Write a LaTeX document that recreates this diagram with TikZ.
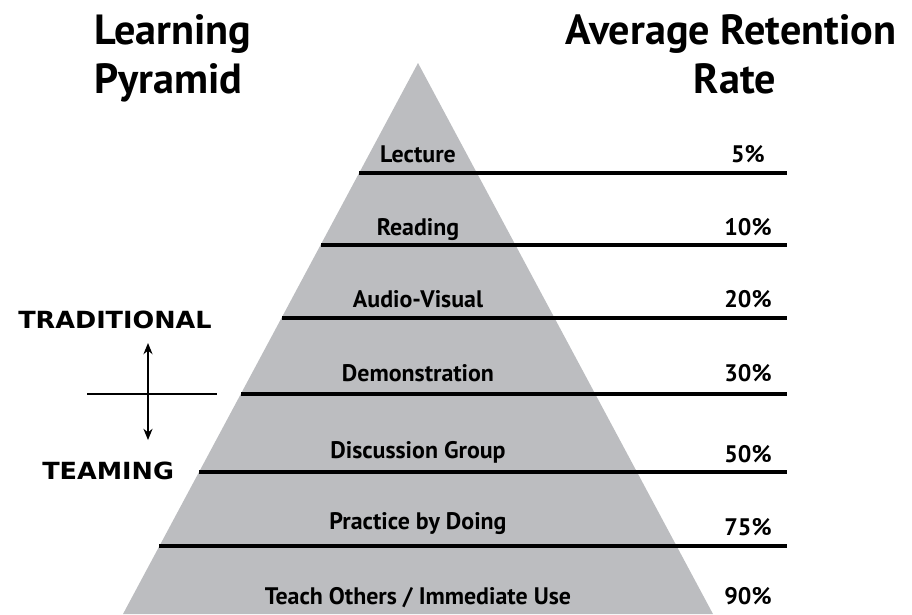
\documentclass[tikz,border=0pt]{standalone}
\usepackage{fontspec}
\usetikzlibrary{arrows.meta}
\setmainfont{PT Sans}
\newfontfamily\heavyfont[FakeStretch=1.08]{DejaVu Sans}
\definecolor{pyrgray}{RGB}{188,189,192}
\tikzset{
    lvl/.style={font=\bfseries\fontsize{17}{20}\selectfont, anchor=base, inner sep=0pt},
    pct/.style={font=\bfseries\fontsize{17}{20}\selectfont, anchor=base, inner sep=0pt},
    heading/.style={font=\bfseries\fontsize{30}{34}\selectfont, inner sep=0pt},
    side/.style={font=\heavyfont\bfseries\fontsize{16.8}{19}\selectfont, anchor=base west, inner sep=0pt},
    bar/.style={line width=2.2pt}
}
\begin{document}
\begin{tikzpicture}[x=0.025cm, y=-0.025cm]
        \useasboundingbox (0,0) rectangle (912,614);

        \coordinate (apex) at (418,63);
        \coordinate (baseL) at (123,614);
        \coordinate (baseR) at (713,614);
        \fill[pyrgray] (apex) -- (baseL) -- (baseR) -- cycle;

        % titles
        \node[heading, anchor=base west] (titleL1) at (94,44) {Learning};
        \node[heading, anchor=base west] (titleL2) at (94,93) {Pyramid};
        \node[heading, anchor=base] (titleR1) at (731,44) {Average Retention};
        \node[heading, anchor=base] (titleR2) at (735,93) {Rate};

        \foreach \y/\xl/\nm in {173/359/a, 245/321/b, 318/282/c, 394/241/d, 472/199/e, 546/159/f} {
            \coordinate (l\nm) at (\xl,\y);
            \coordinate (r\nm) at (787,\y);
            \draw[bar] (l\nm) -- (r\nm);
        }

        \foreach \y/\txt/\nm in {162/Lecture/a, 235/Reading/b, 307/Audio-Visual/c, 381/Demonstration/d,
                                 458/Discussion Group/e, 529/Practice by Doing/f, 604/{Teach Others / Immediate Use}/g} {
            \node[lvl] (lvl\nm) at (418,\y) {\txt};
        }

        \foreach \y/\txt/\nm in {162/5\%/a, 235/10\%/b, 307/20\%/c, 381/30\%/d, 462/50\%/e, 535/75\%/f, 604/90\%/g} {
            \node[pct] (pct\nm) at (748,\y) {\txt};
        }

        \node[side] (trad) at (18,328) {TRADITIONAL};
        \node[side] (team) at (42,479) {TEAMING};

        \coordinate (arrTop) at (148,343);
        \coordinate (arrBot) at (148,440);
        \coordinate (divL) at (87,394);
        \coordinate (divR) at (217,394);
        \draw[line width=1.6pt] (divL) -- (divR);
        \draw[line width=1pt, {Stealth[length=8pt,width=6.5pt]}-{Stealth[length=8pt,width=6.5pt]}] (arrTop) -- (arrBot);
\end{tikzpicture}
\end{document}
